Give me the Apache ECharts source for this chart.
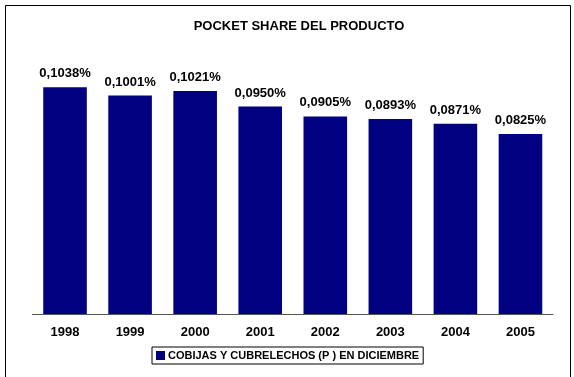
<!DOCTYPE html>
<html>
<head>
<meta charset="utf-8">
<script src="https://cdn.jsdelivr.net/npm/echarts@6/dist/echarts.min.js"></script>
<style>
  html, body { margin: 0; padding: 0; background: #fff; }
  #chart { width: 574px; height: 377px; }
</style>
</head>
<body>
<div id="chart"></div>
<script>
var years = ["1998", "1999", "2000", "2001", "2002", "2003", "2004", "2005"];
var share = [0.1038, 0.1001, 0.1021, 0.0950, 0.0905, 0.0893, 0.0871, 0.0825];
var seriesName = "COBIJAS Y CUBRELECHOS (P ) EN DICIEMBRE";

var myChart = echarts.init(document.getElementById("chart"));

var option = {
  backgroundColor: "#fff",
  animation: false,
  title: {
    text: "POCKET SHARE DEL PRODUCTO",
    left: 294,
    textAlign: "center",
    top: 15,
    textStyle: { fontFamily: "Liberation Sans", fontSize: 13, fontWeight: "bold", color: "#000" }
  },
  legend: {
    data: [seriesName],
    bottom: 13,
    left: 152,
    itemWidth: 9,
    itemHeight: 9,
    itemGap: 4,
    padding: [3, 4, 3, 4],
    borderColor: "#000",
    borderWidth: 1,
    icon: "rect",
    textStyle: { fontFamily: "Liberation Sans", fontSize: 11, fontWeight: "bold", color: "#000", padding: [0, 0, 0, -2] }
  },
  graphic: [{
    type: "rect",
    shape: { x: 5.5, y: 5.5, width: 565, height: 380 },
    style: { fill: null, stroke: "#000", lineWidth: 1 },
    silent: true
  }],
  grid: { left: 32.5, right: 21, top: 52, bottom: 63 },
  xAxis: {
    type: "category",
    data: years,
    axisLine: { lineStyle: { color: "#555", width: 1 } },
    axisTick: { length: 4, lineStyle: { color: "#333" } },
    axisLabel: { fontFamily: "Liberation Sans", fontSize: 13, fontWeight: "bold", color: "#000", margin: 12 }
  },
  yAxis: {
    type: "value",
    min: 0,
    max: 0.12,
    show: false
  },
  series: [{
    name: seriesName,
    type: "bar",
    data: share,
    barCategoryGap: "33%",
    itemStyle: { color: "#000080" },
    label: {
      show: true,
      position: "top",
      distance: 7,
      fontFamily: "Liberation Sans",
      fontSize: 13,
      fontWeight: "bold",
      color: "#000",
      formatter: function (p) { return p.value.toFixed(4).replace(".", ",") + "%"; }
    }
  }]
};
myChart.setOption(option);
</script>
</body>
</html>
